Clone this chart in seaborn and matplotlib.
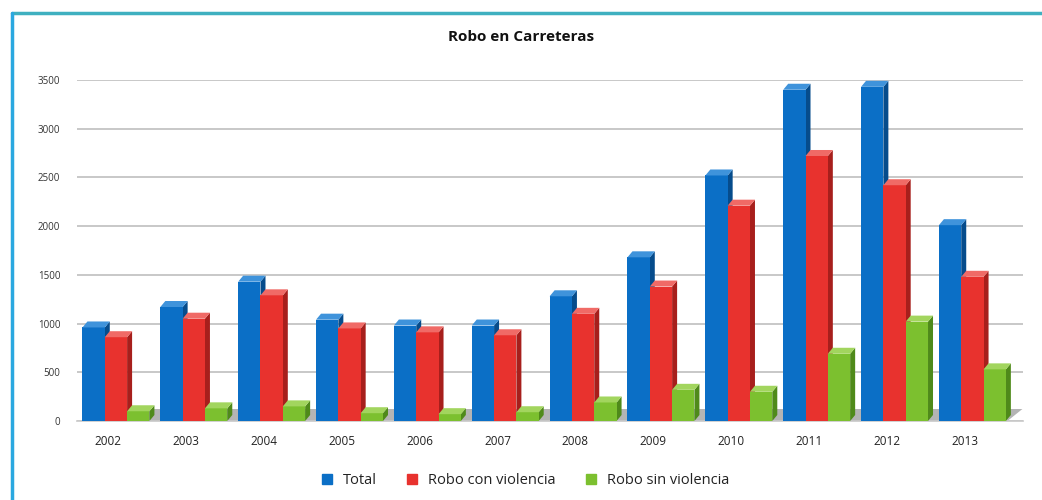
import matplotlib
matplotlib.use("Agg")
import matplotlib.pyplot as plt
from matplotlib.patches import Polygon
from matplotlib.lines import Line2D
import seaborn as sns
import pandas as pd
import numpy as np

years = ["2002", "2003", "2004", "2005", "2006", "2007", "2008", "2009", "2010", "2011", "2012", "2013"]
total = [960, 1170, 1430, 1040, 980, 980, 1280, 1680, 2520, 3400, 3430, 2010]
con_violencia = [860, 1050, 1290, 950, 910, 880, 1100, 1380, 2210, 2720, 2420, 1480]
sin_violencia = [100, 130, 150, 80, 70, 90, 190, 320, 300, 690, 1020, 530]
series_names = ["Total", "Robo con violencia", "Robo sin violencia"]
yticks = [0, 500, 1000, 1500, 2000, 2500, 3000, 3500]
title = "Robo en Carreteras"

colors = ["#0B6FC6", "#E8322E", "#7CC02F"]
side_colors = ["#064C8C", "#A71F1C", "#4F8A1A"]
top_colors = ["#3F93DB", "#F06A66", "#A2D55E"]

df = pd.DataFrame({
    "year": years * 3,
    "value": total + con_violencia + sin_violencia,
    "serie": [series_names[0]] * 12 + [series_names[1]] * 12 + [series_names[2]] * 12,
})

sns.set_theme(style="white")
plt.rcParams["font.family"] = ["Open Sans", "DejaVu Sans"]

fig = plt.figure(figsize=(10.42, 5.0), dpi=100)
ax = fig.add_axes([77 / 1042, (500 - 421) / 500, (1023 - 77) / 1042, (421 - 80) / 500])

sns.barplot(data=df, x="year", y="value", hue="serie", palette=colors,
            width=0.86, saturation=1, ax=ax, legend=False, zorder=3,
            edgecolor="none", linewidth=0)

ax.set_ylim(0, 3500)
ax.set_xlim(-0.5, 11.65)

# pseudo 3D depth in data units derived from axes scale
bbox = ax.get_window_extent()
px_x = (ax.get_xlim()[1] - ax.get_xlim()[0]) / bbox.width
px_y = (ax.get_ylim()[1] - ax.get_ylim()[0]) / bbox.height
dx = 5 * px_x
dy = 6 * px_y

# floor
x0, x1 = ax.get_xlim()
floor = Polygon([(x0 + 0.05, 0), (x1 - 0.2, 0), (x1 - 0.2 + 3 * dx, 12 * px_y),
                 (x0 + 0.05 + 3 * dx, 12 * px_y)], closed=True,
                facecolor="#B4B4B4", edgecolor="none", zorder=2)
ax.add_patch(floor)

for i, cont in enumerate(ax.containers):
    for p in cont.patches:
        x = p.get_x()
        w = p.get_width()
        h = p.get_height()
        side = Polygon([(x + w, 0), (x + w + dx, dy), (x + w + dx, h + dy), (x + w, h)],
                       closed=True, facecolor=side_colors[i], edgecolor="none", zorder=2.9)
        top = Polygon([(x, h), (x + w, h), (x + w + dx, h + dy), (x + dx, h + dy)],
                      closed=True, facecolor=top_colors[i], edgecolor="none", zorder=3.1)
        ax.add_patch(side)
        ax.add_patch(top)

ax.set_xticks(np.arange(len(years)) - 0.1)
ax.set_xticklabels(years)
ax.set_yticks(yticks)
ax.set_yticklabels([str(t) for t in yticks], fontsize=7, color="#333333")
ax.tick_params(axis="y", length=0, pad=12)
ax.tick_params(axis="x", length=0, pad=10, labelsize=8.5, labelcolor="#222222")
ax.set_xlabel("")
ax.set_ylabel("")
ax.grid(axis="y", color="#C4C4C4", linewidth=1.3, zorder=0)
ax.set_axisbelow(True)
for s in ["top", "right", "left"]:
    ax.spines[s].set_visible(False)
ax.spines["bottom"].set_color("#C8C8C8")
ax.spines["bottom"].set_linewidth(1.2)

fig.text(0.5, 1 - 37 / 500, title, ha="center", va="center", fontsize=11,
         fontweight="bold", color="#111111")

handles = [Line2D([0], [0], marker="s", linestyle="", markersize=7,
                  markerfacecolor=c, markeredgecolor=c) for c in colors]
fig.legend(handles, series_names, loc="center", bbox_to_anchor=(0.5, 1 - 481 / 500),
           ncol=3, frameon=False, fontsize=10.5, handletextpad=0.1, columnspacing=1.4,
           labelcolor="#222222")

# frame lines
fig.add_artist(Line2D([12 / 1042, 1.0], [1 - 13 / 500, 1 - 13 / 500], color="#3FB0C0",
                      linewidth=2.5, transform=fig.transFigure))
fig.add_artist(Line2D([12 / 1042, 12 / 1042], [0, 1 - 13 / 500], color="#2AA8E0",
                      linewidth=2.5, transform=fig.transFigure))

fig.savefig("out.png", dpi=100)
